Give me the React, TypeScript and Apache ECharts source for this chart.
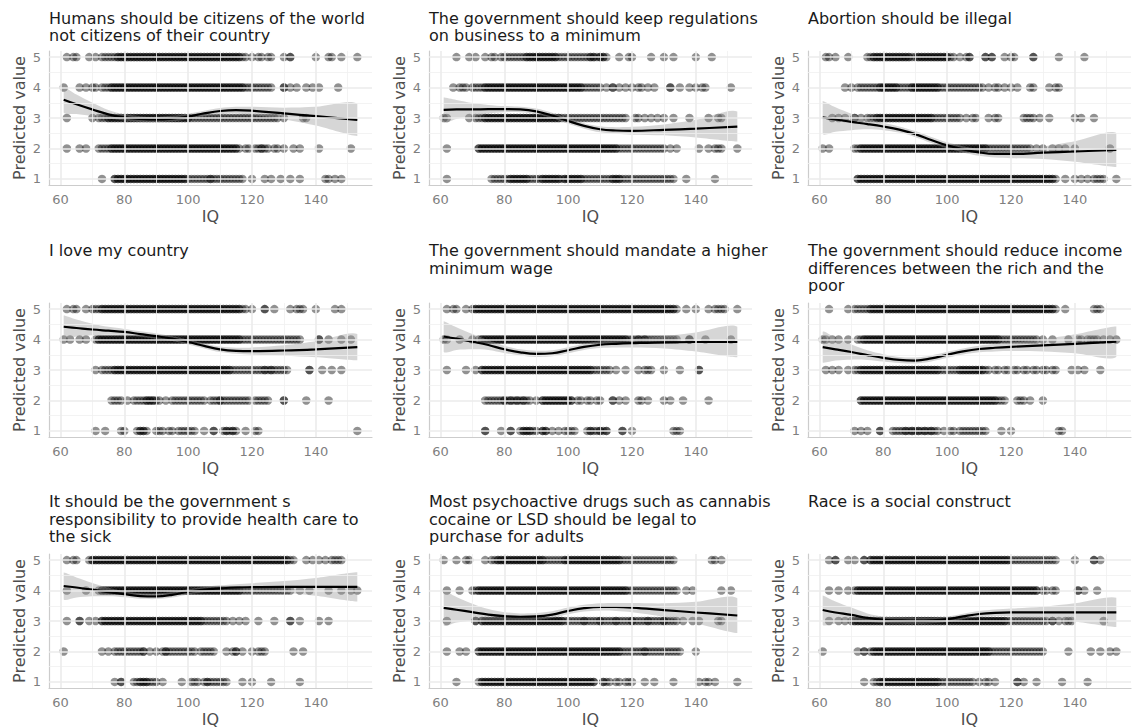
import React, { useEffect, useRef } from "react";
import * as echarts from "echarts";

const FONT = "DejaVu Sans";

const panelTitles = [
  "Humans should be citizens of the world\nnot citizens of their country",
  "The government should keep regulations\non business to a minimum",
  "Abortion should be illegal",
  "I love my country",
  "The government should mandate a higher\nminimum wage",
  "The government should reduce income\ndifferences between the rich and the\npoor",
  "It should be the government s\nresponsibility to provide health care to\nthe sick",
  "Most psychoactive drugs such as cannabis\ncocaine or LSD should be legal to\npurchase for adults",
  "Race is a social construct",
];

const xTicks = [60, 80, 100, 120, 140];
const yTicks = [1, 2, 3, 4, 5];
const xMinor = [70, 90, 110, 130, 150];
const yMinor = [1.5, 2.5, 3.5, 4.5];

// loess fit (IQ grid, fitted value, CI half-width)
const fitX = [61, 65, 70, 75, 80, 85, 90, 95, 100, 105, 110, 115, 120, 130, 140, 153];
const fit1 = [3.6, 3.45, 3.28, 3.12, 3.02, 2.97, 2.95, 2.98, 3.05, 3.15, 3.23, 3.26, 3.24, 3.15, 3.06, 2.94];
const ci1 = [0.42, 0.32, 0.22, 0.14, 0.1, 0.09, 0.09, 0.09, 0.09, 0.09, 0.1, 0.11, 0.13, 0.19, 0.31, 0.53];
const fit2 = [3.27, 3.28, 3.28, 3.29, 3.29, 3.28, 3.22, 3.08, 2.9, 2.74, 2.63, 2.59, 2.58, 2.61, 2.65, 2.72];
const ci2 = [0.4, 0.31, 0.21, 0.14, 0.1, 0.09, 0.09, 0.09, 0.09, 0.09, 0.1, 0.11, 0.13, 0.18, 0.29, 0.49];
const fit3 = [3.02, 2.95, 2.87, 2.8, 2.72, 2.62, 2.47, 2.28, 2.1, 1.97, 1.87, 1.82, 1.82, 1.86, 1.9, 1.95];
const ci3 = [0.54, 0.4, 0.27, 0.17, 0.12, 0.1, 0.1, 0.1, 0.1, 0.1, 0.11, 0.12, 0.14, 0.21, 0.34, 0.56];
const fit4 = [4.42, 4.38, 4.33, 4.29, 4.25, 4.18, 4.11, 4.03, 3.92, 3.79, 3.68, 3.63, 3.62, 3.64, 3.68, 3.75];
const ci4 = [0.37, 0.28, 0.19, 0.13, 0.1, 0.09, 0.09, 0.08, 0.08, 0.08, 0.09, 0.1, 0.12, 0.17, 0.26, 0.43];
const fit5 = [4.1, 4.03, 3.93, 3.82, 3.68, 3.58, 3.53, 3.55, 3.65, 3.76, 3.83, 3.86, 3.88, 3.91, 3.92, 3.92];
const ci5 = [0.5, 0.37, 0.25, 0.16, 0.12, 0.1, 0.1, 0.1, 0.1, 0.1, 0.11, 0.12, 0.14, 0.2, 0.31, 0.5];
const fit6 = [3.75, 3.68, 3.59, 3.49, 3.4, 3.33, 3.31, 3.38, 3.5, 3.61, 3.69, 3.73, 3.76, 3.81, 3.86, 3.93];
const ci6 = [0.5, 0.37, 0.25, 0.16, 0.12, 0.1, 0.1, 0.1, 0.1, 0.1, 0.11, 0.12, 0.14, 0.2, 0.31, 0.5];
const fit7 = [4.15, 4.1, 4.03, 3.95, 3.88, 3.82, 3.81, 3.86, 3.96, 4.03, 4.07, 4.1, 4.11, 4.12, 4.12, 4.12];
const ci7 = [0.44, 0.33, 0.22, 0.14, 0.1, 0.09, 0.09, 0.09, 0.09, 0.09, 0.1, 0.11, 0.13, 0.19, 0.29, 0.48];
const fit8 = [3.43, 3.37, 3.29, 3.21, 3.16, 3.14, 3.15, 3.21, 3.33, 3.42, 3.46, 3.46, 3.44, 3.36, 3.28, 3.18];
const ci8 = [0.57, 0.42, 0.28, 0.18, 0.13, 0.11, 0.11, 0.11, 0.11, 0.11, 0.12, 0.13, 0.15, 0.22, 0.35, 0.57];
const fit9 = [3.36, 3.28, 3.2, 3.1, 3.04, 3.02, 3.01, 3.02, 3.06, 3.15, 3.23, 3.27, 3.28, 3.28, 3.28, 3.28];
const ci9 = [0.48, 0.36, 0.24, 0.15, 0.11, 0.1, 0.1, 0.09, 0.09, 0.09, 0.1, 0.11, 0.13, 0.19, 0.3, 0.48];

// IQ values of respondents at each answer level (1..5), per panel
const p1_l5 = [62,64,65,69,71,73,74,75,76,77,78,78,79,79,80,80,81,81,82,82,83,83,84,84,85,85,86,86,87,87,88,88,89,89,90,90,91,91,92,92,93,93,94,94,95,95,96,96,97,97,98,98,99,99,100,100,101,101,102,102,103,103,104,104,105,105,106,106,107,107,108,108,109,109,110,110,111,111,112,112,113,113,114,114,115,115,116,116,117,118,120,122,123,125,126,130,132,132,140,144,145,148,153];
const p1_l4 = [61,66,68,70,71,73,74,75,76,76,77,77,78,78,79,79,80,80,81,81,82,82,83,83,84,84,85,85,86,86,87,87,88,88,89,89,90,90,91,91,92,92,93,93,94,94,95,95,96,96,97,97,98,98,99,99,100,100,101,101,102,102,103,103,104,104,105,105,106,106,107,107,108,108,109,109,110,110,111,111,112,112,113,113,114,114,115,115,116,116,117,117,118,119,120,121,122,123,124,125,126,130,130,132,134,137,139,141,147];
const p1_l3 = [62,70,72,73,74,75,75,76,76,77,77,78,78,79,79,80,80,81,81,82,82,83,83,84,84,85,85,86,86,87,87,88,88,89,89,90,90,91,91,92,92,93,93,94,94,95,95,96,96,97,97,98,98,99,99,100,100,101,102,103,104,105,106,107,108,109,110,111,112,113,114,115,116,117,118,119,120,121,122,123,124,125,126,127,128,130,136,137];
const p1_l2 = [62,66,68,72,73,74,75,76,76,77,77,78,78,79,79,80,80,81,81,82,82,83,83,84,84,85,85,86,86,87,87,88,88,89,89,90,90,91,91,92,92,93,93,94,94,95,95,96,96,97,97,98,98,99,99,100,100,101,101,102,102,103,103,104,104,105,105,106,106,107,107,108,108,109,109,110,110,111,111,112,112,113,113,114,114,115,115,116,118,119,121,122,123,123,124,125,127,128,130,133,135,141,151];
const p1_l1 = [73,77,77,78,78,79,79,80,80,81,81,82,82,83,83,84,84,85,85,86,86,87,87,88,88,89,89,90,90,91,91,92,92,93,93,94,94,95,95,96,96,97,97,98,98,99,99,100,101,102,103,104,105,106,107,107,108,109,110,111,112,113,114,115,116,117,120,124,126,129,132,135,143,144,146,148];

const p2_l5 = [65,69,71,74,76,77,79,80,81,82,83,84,85,86,87,87,88,88,89,89,90,90,91,91,92,92,93,93,94,94,95,95,96,96,97,98,99,100,101,102,103,104,105,106,107,107,108,108,109,110,110,111,111,112,116,119,120,126,130,133,140,145];
const p2_l4 = [64,66,67,68,70,71,72,73,74,74,75,75,76,76,77,77,78,78,79,79,80,80,81,81,82,82,83,83,84,84,85,85,86,86,87,87,88,88,89,89,90,90,91,91,92,92,93,93,94,94,95,95,96,96,97,97,98,98,99,99,100,100,101,101,102,102,103,103,104,104,105,106,107,108,109,110,112,114,114,116,118,120,122,123,125,127,132,132,135,138,140,142,143,151];
const p2_l3 = [61,62,69,71,72,73,74,74,75,75,76,76,77,77,78,78,79,79,80,80,81,81,82,82,83,83,84,84,85,85,86,86,87,87,88,88,89,89,90,90,91,91,92,92,93,93,94,94,95,95,96,96,97,97,98,99,100,101,102,103,104,105,106,107,108,109,110,111,112,113,114,115,116,117,118,121,122,124,126,128,130,133,138,144,147,148];
const p2_l2 = [62,72,72,73,73,74,74,75,75,76,76,77,77,78,78,79,79,80,80,81,81,82,82,83,83,84,84,85,85,86,86,87,87,88,88,89,89,90,90,91,91,92,92,93,93,94,94,95,95,96,96,97,97,98,98,99,99,100,100,101,101,102,102,103,103,104,104,105,105,106,106,107,107,108,108,109,109,110,110,111,111,112,112,113,113,114,114,115,115,116,117,118,119,120,121,122,123,124,125,126,127,128,129,130,132,134,141,144,146,147,148,153];
const p2_l1 = [62,76,77,78,79,80,81,82,82,83,83,84,84,85,85,86,86,87,87,88,89,90,91,92,92,93,93,94,94,95,95,96,96,97,97,98,99,99,100,100,101,101,102,102,103,103,104,104,105,106,107,108,109,110,111,112,113,114,114,115,115,116,116,117,118,119,120,121,122,123,124,125,126,127,128,129,130,131,132,133,137,146];

const p3_l5 = [62,63,65,69,75,76,77,77,78,78,79,79,80,80,81,81,82,82,83,83,84,84,85,85,86,86,87,87,88,88,89,90,91,91,92,92,93,93,94,94,95,95,96,96,97,97,98,98,99,99,100,100,101,102,104,106,107,107,112,112,114,114,118,120,121,127,127,135,143];
const p3_l4 = [68,70,72,73,74,75,76,77,78,79,79,80,80,81,81,82,82,83,83,84,84,85,86,87,88,89,89,90,90,91,91,92,92,93,93,94,94,95,95,96,96,97,97,98,99,100,101,102,103,104,105,106,107,108,109,110,111,113,115,116,118,120,122,126,127,132,134,135];
const p3_l3 = [64,66,68,71,71,73,75,76,77,78,78,79,79,80,80,81,81,82,82,83,83,84,84,85,85,86,86,87,87,88,88,89,89,90,90,91,91,92,92,93,93,94,94,95,95,96,97,98,99,100,101,102,103,104,106,108,109,113,115,116,124,125,126,127,129,132,140,142,146];
const p3_l2 = [61,63,71,72,73,73,74,74,75,75,76,76,77,77,78,78,79,79,80,80,81,81,82,82,83,83,84,84,85,85,86,86,87,87,88,88,89,89,90,90,91,91,92,92,93,93,94,94,95,95,96,96,97,97,98,98,99,99,100,100,101,101,102,102,103,103,104,104,105,105,106,106,107,107,108,108,109,109,110,110,111,111,112,112,113,114,115,116,117,118,119,120,121,122,123,124,125,126,128,130,133,135,137,140,151];
const p3_l1 = [72,72,73,73,74,74,75,75,76,76,77,77,78,78,79,79,80,80,81,81,82,82,83,83,84,84,85,85,86,86,87,87,88,88,89,89,90,90,91,91,92,92,93,93,94,94,95,95,96,96,97,97,98,98,99,99,100,100,101,101,102,102,103,103,104,104,105,105,106,106,107,107,108,108,109,109,110,110,111,111,112,112,113,113,114,114,115,115,116,116,117,117,118,118,119,119,120,120,121,121,122,122,123,123,124,124,125,125,126,126,127,127,128,128,129,129,130,130,131,131,132,132,133,133,134,137,140,142,144,146,147,148,149,153];

const p4_l5 = [62,64,65,68,70,71,72,73,73,74,74,75,75,76,76,77,77,78,78,79,79,80,80,81,81,82,82,83,83,84,84,85,85,86,86,87,87,88,88,89,89,90,90,91,91,92,92,93,93,94,94,95,95,96,96,97,97,98,98,99,99,100,100,101,101,102,102,103,103,104,104,105,105,106,106,107,107,108,108,109,109,110,110,111,111,112,112,113,113,114,114,115,115,116,116,117,118,120,124,124,127,132,134,135,136,140,146,148];
const p4_l4 = [61,63,66,68,71,72,72,73,73,74,74,75,75,76,76,77,77,78,78,79,79,80,80,81,81,82,82,83,83,84,84,85,85,86,86,87,87,88,88,89,89,90,90,91,91,92,92,93,93,94,94,95,95,96,96,97,97,98,98,99,99,100,100,101,101,102,102,103,103,104,104,105,105,106,106,107,107,108,108,109,109,110,110,111,111,112,112,113,113,114,114,115,115,116,116,117,118,119,120,121,122,123,124,125,126,127,128,129,130,131,132,133,134,135,141,141,144,148,151];
const p4_l3 = [71,73,74,75,76,77,77,78,78,79,79,80,80,81,81,82,82,83,83,84,84,85,85,86,86,87,87,88,88,89,89,90,90,91,91,92,92,93,93,94,94,95,95,96,96,97,97,98,98,99,99,100,100,101,101,102,102,103,103,104,104,105,105,106,106,107,107,108,108,109,109,110,110,111,111,112,112,113,113,114,115,116,117,118,119,120,121,122,123,124,124,125,126,126,127,128,129,130,131,138,138,142,145,148];
const p4_l2 = [76,77,78,79,81,83,84,85,86,87,87,88,88,89,89,90,91,93,95,96,97,98,99,100,101,102,103,104,105,107,108,109,110,110,111,112,113,114,115,116,117,118,119,121,122,123,124,125,130,130,137,144];
const p4_l1 = [71,74,79,80,84,85,85,86,86,87,90,91,92,94,95,97,98,99,100,101,102,105,108,108,111,112,112,113,114,114,115,118,121,122,153];

const p5_l5 = [62,64,65,68,70,71,71,72,72,73,73,74,74,75,75,76,76,77,77,78,78,79,79,80,80,81,81,82,82,83,83,84,84,85,85,86,86,87,87,88,88,89,89,90,90,91,91,92,92,93,93,94,94,95,95,96,96,97,97,98,98,99,99,100,100,101,101,102,102,103,103,104,104,105,105,106,106,107,107,108,108,109,109,110,110,111,111,112,112,113,113,114,114,115,115,116,116,117,117,118,118,119,119,120,120,121,121,122,122,123,123,124,124,125,125,126,126,127,127,128,128,129,129,130,130,131,131,132,132,133,133,134,137,140,144,146,147,148,149,153];
const p5_l4 = [61,62,66,70,72,73,73,74,74,75,75,76,76,77,77,78,78,79,79,80,80,81,81,82,82,83,83,84,84,85,85,86,86,87,87,88,88,89,89,90,90,91,91,92,92,93,93,94,94,95,95,96,96,97,97,98,98,99,99,100,100,101,101,102,102,103,103,104,104,105,105,106,106,107,107,108,108,109,109,110,110,111,111,112,112,113,113,114,114,115,115,116,116,117,117,118,118,119,120,121,122,122,123,124,124,125,126,127,128,129,130,131,132,133,134,138,138,143,151];
const p5_l3 = [62,68,71,73,73,74,74,75,75,76,76,77,77,78,78,79,79,80,80,81,81,82,82,83,83,84,84,85,85,86,86,87,87,88,88,89,89,90,90,91,91,92,92,93,93,94,94,95,95,96,96,97,97,98,98,99,99,100,100,101,101,102,102,103,103,104,104,105,105,106,106,107,107,108,109,110,111,112,113,115,118,122,124,125,126,130,135,141,141];
const p5_l2 = [74,75,76,77,78,79,80,80,81,82,82,83,84,84,85,86,86,87,88,90,92,92,93,93,94,94,95,95,96,96,97,97,98,98,99,99,100,100,101,101,103,104,106,107,109,110,114,114,116,118,122,123,125,130,132,136,144];
const p5_l1 = [74,74,79,82,82,85,86,86,87,87,88,88,89,90,92,92,93,93,95,97,99,100,101,102,106,107,107,108,109,110,110,111,112,112,117,117,120,133,134,135];

const p6_l5 = [63,69,71,72,73,74,75,76,76,77,77,78,78,79,79,80,80,81,81,82,82,83,83,84,84,85,85,86,86,87,87,88,88,89,89,90,90,91,91,92,92,93,93,94,94,95,95,96,96,97,97,98,98,99,99,100,100,101,101,102,102,103,103,104,104,105,105,106,106,107,107,108,108,109,109,110,110,111,111,112,112,113,113,114,114,115,115,116,116,117,117,118,118,119,119,120,120,121,121,122,122,123,123,124,124,125,125,126,126,127,127,128,128,129,129,130,130,131,131,132,132,133,133,134,137,146,147,148];
const p6_l4 = [61,62,64,66,69,72,73,74,74,75,75,76,76,77,77,78,78,79,79,80,80,81,81,82,82,83,83,84,84,85,85,86,86,87,87,88,88,89,89,90,90,91,91,92,92,93,93,94,94,95,95,96,96,97,97,98,98,99,99,100,100,101,101,102,102,103,103,104,104,105,105,106,106,107,107,108,108,109,109,110,110,111,111,112,112,113,113,114,114,115,115,116,116,117,118,119,120,121,122,123,124,125,126,127,128,130,133,138,141,142,144,145,146,147,149,151,153];
const p6_l3 = [62,64,66,69,71,72,73,73,74,74,75,75,76,76,77,77,78,78,79,79,80,80,81,81,82,82,83,83,84,84,85,85,86,86,87,87,88,88,89,89,90,90,91,91,92,92,93,93,94,94,95,95,96,96,97,97,98,99,100,101,102,103,104,104,105,105,106,106,107,107,108,108,109,109,110,110,111,111,112,113,115,116,118,119,121,122,124,125,127,128,130,131,133,134,139,141,143,148];
const p6_l2 = [73,73,74,74,75,75,76,76,77,77,78,78,79,79,80,80,81,81,82,82,83,83,84,84,85,85,86,86,87,87,88,88,89,89,90,90,91,91,92,92,93,93,94,94,95,95,96,96,97,97,98,98,99,99,100,100,101,101,102,102,103,103,104,104,105,105,106,106,107,107,108,108,109,109,110,110,111,111,112,112,113,113,114,114,115,115,116,117,118,122,123,124,126,130];
const p6_l1 = [71,73,75,79,79,83,84,85,86,87,87,88,89,89,90,91,91,92,93,93,94,95,95,96,97,99,101,102,104,105,106,107,108,109,110,111,112,117,120,135,136];

const p7_l5 = [62,64,65,69,70,70,71,71,72,72,73,73,74,74,75,75,76,76,77,77,78,78,79,79,80,80,81,81,82,82,83,83,84,84,85,85,86,86,87,87,88,88,89,89,90,90,91,91,92,92,93,93,94,94,95,95,96,96,97,97,98,98,99,99,100,100,101,101,102,102,103,103,104,104,105,105,106,106,107,107,108,108,109,109,110,110,111,111,112,112,113,113,114,114,115,115,116,116,117,117,118,118,119,119,120,120,121,121,122,122,123,123,124,124,125,125,126,126,127,127,128,128,129,129,130,130,131,131,132,133,137,139,141,143,145,146,147,148];
const p7_l4 = [62,68,72,73,73,74,74,75,75,76,76,77,77,78,78,79,79,80,80,81,81,82,82,83,83,84,84,85,85,86,86,87,87,88,88,89,89,90,90,91,91,92,92,93,93,94,94,95,95,96,96,97,97,98,98,99,99,100,100,101,101,102,102,103,103,104,104,105,105,106,106,107,107,108,108,109,109,110,110,111,111,112,112,113,113,114,114,115,115,116,116,117,118,119,120,121,122,123,124,125,126,127,128,129,130,131,132,135,138,144,148,151,153];
const p7_l3 = [62,66,66,69,71,73,73,74,74,75,75,76,76,77,77,78,78,79,79,80,80,81,81,82,82,83,83,84,84,85,85,86,86,87,87,88,88,89,89,90,90,91,91,92,92,93,93,94,94,95,95,96,96,97,97,98,98,99,99,100,100,101,101,102,102,103,103,104,104,105,106,107,108,109,110,111,112,114,116,118,122,127,132,132,135,141,144];
const p7_l2 = [61,73,75,77,78,79,80,81,82,83,84,85,86,86,88,90,92,93,93,94,95,96,97,98,99,100,101,102,104,105,106,107,108,112,114,115,115,117,120,122,123,124,133,136];
const p7_l1 = [77,79,79,83,84,85,85,86,86,87,87,88,89,90,92,98,101,102,103,105,106,106,107,108,109,110,111,112,117,120,126,135];

const p8_l5 = [61,65,68,69,74,76,77,78,78,79,79,80,80,81,81,82,82,83,83,84,84,85,85,86,86,87,87,88,88,89,89,90,90,91,91,92,92,93,94,95,96,97,98,99,99,100,100,101,101,102,102,103,103,104,104,105,105,106,106,107,107,108,108,109,109,110,110,111,111,112,112,113,113,114,114,115,115,116,116,117,118,119,120,121,122,123,124,125,126,127,128,129,130,131,132,133,145,146,148];
const p8_l4 = [62,66,70,71,72,72,73,73,74,74,75,75,76,76,77,77,78,78,79,79,80,80,81,81,82,82,83,83,84,84,85,85,86,86,87,87,88,88,89,89,90,90,91,91,92,92,93,93,94,94,95,95,96,96,97,97,98,98,99,99,100,100,101,101,102,102,103,103,104,104,105,105,106,106,107,107,108,108,109,109,110,110,111,111,112,112,113,113,114,114,115,115,116,116,117,117,118,118,119,120,121,122,123,124,125,126,127,128,129,130,131,132,133,134,137,139,148,151];
const p8_l3 = [62,71,71,73,73,74,74,75,75,76,76,77,77,78,78,79,79,80,80,81,81,82,82,83,83,84,84,85,85,86,86,87,87,88,88,89,89,90,90,91,91,92,92,93,93,94,94,95,95,96,96,97,97,98,98,99,100,101,102,103,104,105,105,106,107,108,109,110,110,111,112,113,114,115,115,116,117,118,119,120,120,121,122,123,124,125,125,126,127,128,129,130,130,131,132,133,134,136,139,141,147,148];
const p8_l2 = [62,66,68,72,72,73,73,74,74,75,75,76,76,77,77,78,78,79,79,80,80,81,81,82,82,83,83,84,84,85,85,86,86,87,87,88,88,89,89,90,90,91,91,92,92,93,93,94,94,95,95,96,96,97,97,98,98,99,99,100,100,101,101,102,102,103,103,104,104,105,105,106,106,107,107,108,108,109,109,110,110,111,111,112,112,113,113,114,114,115,115,116,116,117,118,119,120,121,122,123,124,124,125,126,127,128,129,130,131,132,133,134,135,140];
const p8_l1 = [65,72,73,73,74,74,75,75,76,76,77,77,78,78,79,79,80,80,81,81,82,82,83,83,84,84,85,85,86,86,87,87,88,88,89,89,90,90,91,91,92,92,93,93,94,94,95,95,96,96,97,97,98,98,99,99,100,100,101,101,102,102,103,103,104,104,105,105,106,106,107,107,108,108,111,111,112,113,115,116,118,119,120,124,127,133,141,143,144,146,153];

const p9_l5 = [63,65,65,69,71,74,74,76,76,77,77,78,78,79,79,80,80,81,81,82,82,83,83,84,84,85,85,86,86,87,87,88,88,89,89,90,90,91,91,92,92,93,93,94,94,95,95,96,96,97,97,98,98,99,99,100,100,101,101,102,102,103,103,104,104,105,105,106,106,107,107,108,108,109,109,110,110,111,111,112,112,113,113,114,114,115,115,116,116,117,117,118,118,119,119,120,121,122,123,124,125,126,127,128,129,130,131,132,133,134,140,146,146,148];
const p9_l4 = [63,66,69,71,72,72,73,73,74,74,75,75,76,76,77,77,78,78,79,79,80,80,81,81,82,82,83,83,84,84,85,85,86,86,87,87,88,88,89,89,90,90,91,91,92,92,93,93,94,94,95,95,96,96,97,97,98,98,99,99,100,100,101,101,102,102,103,103,104,104,105,105,106,106,107,107,108,108,109,109,110,110,111,111,112,112,113,113,114,114,115,115,116,116,117,117,118,118,119,119,120,120,121,121,122,122,123,123,124,124,125,125,126,126,127,127,128,128,130,131,133,134,141,141,143,147];
const p9_l3 = [63,66,68,70,71,71,72,72,73,73,74,74,75,75,76,76,77,77,78,78,79,79,80,80,81,81,82,82,83,83,84,84,85,85,86,86,87,87,88,88,89,89,90,90,91,91,92,92,93,93,94,94,95,95,96,96,97,97,98,98,99,99,100,100,101,101,102,102,103,103,104,104,105,105,106,106,107,107,108,108,109,109,110,110,111,111,112,112,113,113,114,114,115,115,116,116,117,117,118,118,119,120,121,122,123,124,125,126,127,128,129,130,131,133,133,135,137,138,139,149];
const p9_l2 = [61,72,74,74,76,77,77,78,78,79,79,80,80,81,81,82,82,83,83,84,84,85,85,86,86,87,87,88,88,89,89,90,90,91,91,92,92,93,93,94,94,95,95,96,96,97,97,98,98,99,99,100,100,101,101,102,102,103,103,104,104,105,105,106,106,107,107,108,108,109,109,110,110,111,111,112,112,113,113,114,115,116,117,118,119,120,121,122,123,124,125,126,127,128,129,130,138,145,148,151,153];
const p9_l1 = [74,77,78,79,79,80,80,81,81,82,82,83,83,84,84,85,85,86,86,87,87,88,88,89,89,90,90,91,91,92,92,93,93,94,94,95,95,96,96,97,97,98,99,100,101,102,103,104,105,106,107,108,110,112,113,115,122,122,124,128,136,144];

const panels = [
  { levels: [p1_l1, p1_l2, p1_l3, p1_l4, p1_l5], fit: fit1, ci: ci1 },
  { levels: [p2_l1, p2_l2, p2_l3, p2_l4, p2_l5], fit: fit2, ci: ci2 },
  { levels: [p3_l1, p3_l2, p3_l3, p3_l4, p3_l5], fit: fit3, ci: ci3 },
  { levels: [p4_l1, p4_l2, p4_l3, p4_l4, p4_l5], fit: fit4, ci: ci4 },
  { levels: [p5_l1, p5_l2, p5_l3, p5_l4, p5_l5], fit: fit5, ci: ci5 },
  { levels: [p6_l1, p6_l2, p6_l3, p6_l4, p6_l5], fit: fit6, ci: ci6 },
  { levels: [p7_l1, p7_l2, p7_l3, p7_l4, p7_l5], fit: fit7, ci: ci7 },
  { levels: [p8_l1, p8_l2, p8_l3, p8_l4, p8_l5], fit: fit8, ci: ci8 },
  { levels: [p9_l1, p9_l2, p9_l3, p9_l4, p9_l5], fit: fit9, ci: ci9 },
];

const COL_LEFT = [49, 429, 808];
const ROW_TOP = [51, 303, 554];
const TITLE_TOP = [9.5, 242, 493];
const GRID_W = 323;
const GRID_H = 134;

function buildOption() {
  const grid: any[] = [];
  const xAxis: any[] = [];
  const yAxis: any[] = [];
  const series: any[] = [];
  const title: any[] = [];

  panels.forEach((p, i) => {
    const row = Math.floor(i / 3);
    const col = i % 3;
    grid.push({ left: COL_LEFT[col], top: ROW_TOP[row], width: GRID_W, height: GRID_H });
    title.push({
      text: panelTitles[i],
      left: COL_LEFT[col],
      top: TITLE_TOP[row],
      padding: 0,
      textStyle: { fontFamily: FONT, fontSize: 16, fontWeight: "normal", color: "#1a1a1a", lineHeight: 17.5 },
    });
    xAxis.push({
      gridIndex: i,
      type: "value",
      min: 56.4,
      max: 157.6,
      axisLine: { show: true, onZero: false, lineStyle: { color: "#cccccc", width: 1.2 } },
      axisTick: { show: false },
      splitLine: { show: false },
      axisLabel: { customValues: xTicks, color: "#7f7f7f", fontSize: 13, margin: 8, fontFamily: FONT },
      name: "IQ",
      nameLocation: "middle",
      nameGap: 23,
      nameTextStyle: { fontSize: 16, color: "#4d4d4d", fontFamily: FONT },
    });
    yAxis.push({
      gridIndex: i,
      type: "value",
      min: 0.8,
      max: 5.2,
      axisLine: { show: true, onZero: false, lineStyle: { color: "#cccccc", width: 1.2 } },
      axisTick: { show: false },
      splitLine: { show: false },
      axisLabel: { customValues: yTicks, color: "#7f7f7f", fontSize: 13, margin: 8, fontFamily: FONT },
      name: "Predicted value",
      nameLocation: "middle",
      nameGap: 22,
      nameTextStyle: { fontSize: 16, color: "#4d4d4d", fontFamily: FONT },
    });

    const major = { color: "#ebebeb", width: 1.6, type: "solid" };
    const minor = { color: "#f0f0f0", width: 0.8, type: "solid" };
    const mlData: any[] = [];
    xMinor.forEach((v) => mlData.push({ xAxis: v, lineStyle: minor }));
    yMinor.forEach((v) => mlData.push({ yAxis: v, lineStyle: minor }));
    xTicks.forEach((v) => mlData.push({ xAxis: v, lineStyle: major }));
    yTicks.forEach((v) => mlData.push({ yAxis: v, lineStyle: major }));

    series.push({
      type: "scatter",
      xAxisIndex: i,
      yAxisIndex: i,
      data: [[100, 3]],
      symbolSize: 0,
      silent: true,
      z: 1,
      markLine: {
        silent: true,
        symbol: ["none", "none"],
        label: { show: false },
        animation: false,
        emphasis: { disabled: true },
        data: mlData,
      },
    });

    const pts: number[][] = [];
    p.levels.forEach((arr, li) => arr.forEach((x) => pts.push([x, li + 1])));
    series.push({
      type: "scatter",
      xAxisIndex: i,
      yAxisIndex: i,
      data: pts,
      symbol: "circle",
      symbolSize: 8.5,
      itemStyle: { color: "#000000", opacity: 0.43, borderWidth: 0 },
      emphasis: { disabled: true },
      silent: true,
      progressive: 0,
      large: false,
      z: 2,
    });

    const fit = p.fit;
    const ci = p.ci;
    series.push({
      type: "custom",
      coordinateSystem: "cartesian2d",
      xAxisIndex: i,
      yAxisIndex: i,
      data: [[100, 3]],
      silent: true,
      z: 3,
      renderItem: (params: any, api: any) => {
        if (params.dataIndex !== 0) return null;
        const up = fitX.map((x, k) => api.coord([x, fit[k] + ci[k]]));
        const dn = fitX.map((x, k) => api.coord([x, fit[k] - ci[k]])).reverse();
        const pts2 = up.concat(dn);
        let minX = Infinity, minY = Infinity, maxX = -Infinity, maxY = -Infinity;
        pts2.forEach((q: number[]) => {
          minX = Math.min(minX, q[0]); maxX = Math.max(maxX, q[0]);
          minY = Math.min(minY, q[1]); maxY = Math.max(maxY, q[1]);
        });
        return {
          type: "polygon",
          shape: { points: pts2, smooth: 0.3, smoothConstraint: [[minX, minY], [maxX, maxY]] },
          style: { fill: "rgba(153,153,153,0.4)" },
          silent: true,
        };
      },
    });

    series.push({
      type: "line",
      xAxisIndex: i,
      yAxisIndex: i,
      data: fitX.map((x, k) => [x, fit[k]]),
      showSymbol: false,
      symbol: "none",
      smooth: 0.4,
      lineStyle: { color: "#000000", width: 2.2 },
      emphasis: { disabled: true },
      silent: true,
      z: 4,
    });
  });

  return { animation: false, backgroundColor: "#ffffff", title, grid, xAxis, yAxis, series };
}

export default function App() {
  const ref = useRef<HTMLDivElement>(null);
  useEffect(() => {
    if (!ref.current) return;
    const chart = echarts.init(ref.current, null, { renderer: "svg" });
    chart.setOption(buildOption() as any);
    return () => chart.dispose();
  }, []);
  return <div ref={ref} style={{ position: "fixed", left: 0, top: 0, width: 1132, height: 728 }} />;
}
